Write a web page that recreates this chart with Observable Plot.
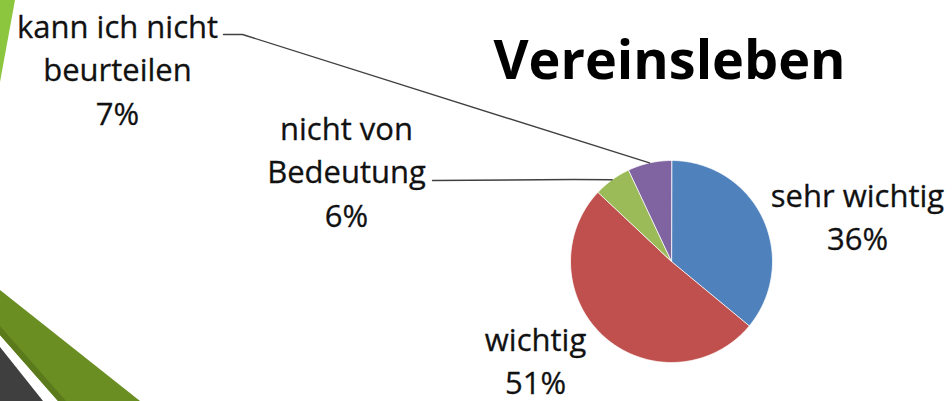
<!DOCTYPE html>
<html>
<head>
<meta charset="utf-8">
<script src="https://cdn.jsdelivr.net/npm/d3@7"></script>
<script src="https://cdn.jsdelivr.net/npm/@observablehq/plot@0.6"></script>
<style>
  html, body { margin: 0; padding: 0; background: #fff; }
  #wrap { position: relative; width: 952px; height: 401px; overflow: hidden; }
  #decor { position: absolute; left: 0; top: 0; }
  #chart { position: absolute; left: 0; top: 0; }
</style>
</head>
<body>
<div id="wrap">
  <svg id="decor" width="952" height="401">
    <polygon points="0,0 15,0 0,82" fill="#8cc63f"/>
    <polygon points="0,290 140,401 58,401 0,335" fill="#6b8e23"/>
    <polygon points="0,326 66,401 58,401 0,335" fill="#5a7a1c"/>
    <polygon points="0,347 43,401 0,401" fill="#3f3f3f"/>
  </svg>
  <div id="chart"></div>
</div>
<script>
// ---- data ----
const title = "Vereinsleben";
const categories = ["sehr wichtig", "wichtig", "nicht von Bedeutung", "kann ich nicht beurteilen"];
const labelLines = [["sehr wichtig"], ["wichtig"], ["nicht von", "Bedeutung"], ["kann ich nicht", "beurteilen"]];
const values = [36, 51, 6, 7];
const colors = ["#4f81bd", "#c0504d", "#9bbb59", "#8064a2"];

// ---- layout (pixels) ----
const W = 952, H = 401;
const cx = 671, cy = 261, R = 101;
const labelPos = [
  {x: 857, y: 214},
  {x: 535, y: 358},
  {x: 346, y: 169},
  {x: 117, y: 67}
];
// leader-line elbows: [start, elbow] per category (null = no leader)
const leaderStart = [null, null, [[432, 180], [573, 179]], [[223, 34], [242, 34]]];

const pie = d3.pie().sort(null).value(d => d.value);
const rows = categories.map((c, i) => ({label: c, value: values[i]}));
const arcs = pie(rows);
const total = d3.sum(values);

const pt = (a, r) => [cx + r * Math.sin(a), cy - r * Math.cos(a)];

// slice polygons
const slicePts = [];
arcs.forEach(a => {
  slicePts.push({label: a.data.label, x: cx, y: cy});
  const n = Math.max(2, Math.ceil((a.endAngle - a.startAngle) / 0.01));
  for (let k = 0; k <= n; k++) {
    const ang = a.startAngle + (a.endAngle - a.startAngle) * k / n;
    const [x, y] = pt(ang, R);
    slicePts.push({label: a.data.label, x, y});
  }
});

// labels
const labels = arcs.map((a, i) => ({
  x: labelPos[i].x, y: labelPos[i].y,
  text: labelLines[i].join("\n") + "\n" + Math.round(a.data.value / total * 100) + "%"
}));

// leaders
const leaders = [];
arcs.forEach((a, i) => {
  if (!leaderStart[i]) return;
  leaderStart[i].forEach(([x, y]) => leaders.push({id: i, x, y}));
  const [ex, ey] = pt((a.startAngle + a.endAngle) / 2, R);
  leaders.push({id: i, x: ex, y: ey});
});

const chart = Plot.plot({
  width: W, height: H,
  margin: 0,
  style: {background: "transparent", overflow: "visible"},
  x: {domain: [0, W], range: [0, W], axis: null},
  y: {domain: [0, H], range: [0, H], axis: null},
  color: {domain: categories, range: colors},
  marks: [
    Plot.line(slicePts, {x: "x", y: "y", z: "label", fill: "label", stroke: "white", strokeWidth: 0.8, curve: "linear-closed"}),
    Plot.line(leaders, {x: "x", y: "y", z: "id", stroke: "#404040", strokeWidth: 1.4}),
    Plot.text(labels, {x: "x", y: "y", text: "text", fontSize: 31, lineHeight: 1.4, fontFamily: "Open Sans", fill: "#111", stroke: "#111", strokeWidth: 0.3, textAnchor: "middle"}),
    Plot.text([title], {x: () => 669, y: () => 61, text: d => d, fontSize: 54, fontWeight: "bold", fontFamily: "Open Sans", fill: "#000"})
  ]
});
document.getElementById("chart").appendChild(chart);
</script>
</body>
</html>
